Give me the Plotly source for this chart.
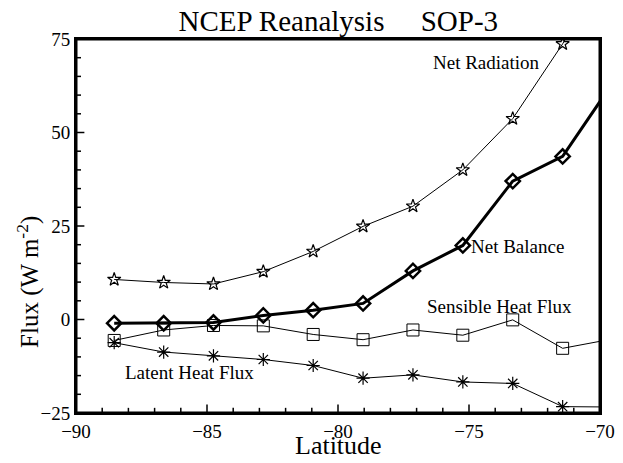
import plotly.graph_objects as go

# NCEP T62 gaussian latitudes (last one lies just outside the frame)
latitude = [-88.542, -86.653, -84.753, -82.851, -80.947, -79.043,
            -77.139, -75.235, -73.331, -71.426, -69.522]

net_radiation = [10.7, 9.9, 9.5, 12.8, 18.2, 24.9, 30.3, 40.0, 53.7, 73.7, 97.0]
net_balance = [-1.0, -1.0, -0.8, 1.1, 2.5, 4.3, 13.0, 19.8, 37.0, 43.6, 63.2]
sensible_heat = [-5.6, -2.8, -1.6, -1.7, -4.0, -5.4, -2.8, -4.2, -0.1, -7.7, -5.2]
latent_heat = [-6.2, -8.7, -9.7, -10.7, -12.3, -15.7, -14.8, -16.7, -17.1, -23.3, -23.4]

x_range = [-90, -70]
y_range = [-25, 75]

FONT = "Liberation Serif"

fig = go.Figure()

# frame and tick marks drawn as line traces (axis lines do not show up in the renderer)
x_len, y_len = 0.32, 2.3          # tick lengths in data units (~8 px)
for v in range(x_range[0] + 1, x_range[1]):
    f = 1.0 if v % 5 == 0 else 0.6
    fig.add_trace(go.Scatter(x=[v, v], y=[y_range[0], y_range[0] + y_len * f],
                             mode="lines", line=dict(color="black", width=1.5),
                             hoverinfo="skip"))
for v in range(y_range[0] + 5, y_range[1], 5):
    f = 1.0 if v % 25 == 0 else 0.6
    fig.add_trace(go.Scatter(x=[x_range[0], x_range[0] + x_len * f], y=[v, v],
                             mode="lines", line=dict(color="black", width=1.5),
                             hoverinfo="skip"))
fig.add_trace(go.Scatter(x=[x_range[0], x_range[1], x_range[1], x_range[0], x_range[0]],
                         y=[y_range[0], y_range[0], y_range[1], y_range[1], y_range[0]],
                         mode="lines", line=dict(color="black", width=3),
                         hoverinfo="skip"))

fig.add_trace(go.Scatter(x=latitude, y=net_radiation, mode="lines+markers",
                         line=dict(color="black", width=1),
                         marker=dict(symbol="star-open", size=10, color="black",
                                     line=dict(width=1.2))))
fig.add_trace(go.Scatter(x=latitude, y=net_balance, mode="lines+markers",
                         line=dict(color="black", width=3),
                         marker=dict(symbol="diamond-open", size=11, color="black",
                                     line=dict(width=2.5))))
fig.add_trace(go.Scatter(x=latitude, y=sensible_heat, mode="lines+markers",
                         line=dict(color="black", width=1),
                         marker=dict(symbol="square-open", size=12, color="black",
                                     line=dict(width=1))))
fig.add_trace(go.Scatter(x=latitude, y=latent_heat, mode="lines+markers",
                         line=dict(color="black", width=1),
                         marker=dict(symbol="asterisk-open", size=11, color="black",
                                     line=dict(width=1.2))))

labels = [("Net Radiation", -74.35, 68.6),
          ("Net Balance", -73.13, 19.6),
          ("Sensible Heat Flux", -73.82, 3.4),
          ("Latent Heat Flux", -85.65, -14.3)]
for text, lx, ly in labels:
    fig.add_annotation(x=lx, y=ly, text=text, showarrow=False,
                       font=dict(family=FONT, size=19, color="black"))

# axis titles placed by hand
fig.add_annotation(x=0.5, y=-0.131, xref="paper", yref="paper", text="Latitude",
                   showarrow=False, xanchor="center", yanchor="bottom",
                   font=dict(family=FONT, size=26, color="black"))
fig.add_annotation(x=-0.092, y=0.35, xref="paper", yref="paper",
                   text="Flux (W m<sup>-2</sup>)", textangle=-90,
                   showarrow=False, xanchor="center", yanchor="middle",
                   font=dict(family=FONT, size=25, color="black"))

axis_style = dict(showline=True, linecolor="#000000", linewidth=2, mirror=True,
                  ticks="", showgrid=False, zeroline=False, automargin=False,
                  tickfont=dict(family=FONT, size=19, color="black"))

fig.update_layout(
    xaxis=dict(range=x_range, dtick=5, tick0=-90, **axis_style),
    yaxis=dict(range=y_range, dtick=25, tick0=-25, **axis_style),
    width=623, height=463,
    margin=dict(l=76, r=23, t=39, b=50),
    paper_bgcolor="white", plot_bgcolor="white",
    showlegend=False,
    title=dict(text="NCEP Reanalysis     SOP-3", x=0.543, xanchor="center",
               y=0.955, yanchor="middle",
               font=dict(family=FONT, size=29, color="black")),
)

fig.write_html("out.html", config={"displayModeBar": False},
               post_script="document.body.style.margin = '0';")
